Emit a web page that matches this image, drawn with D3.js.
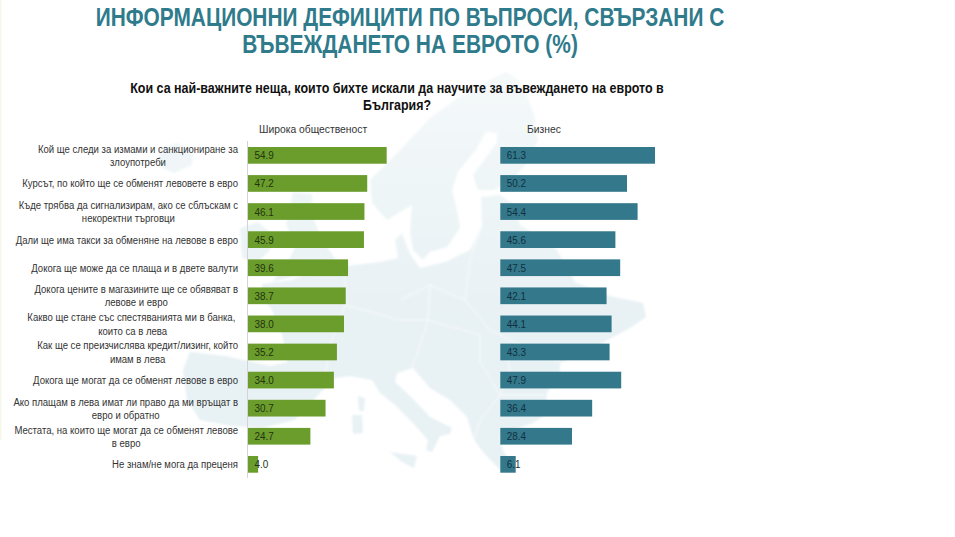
<!DOCTYPE html>
<html><head><meta charset="utf-8">
<script src="https://cdn.jsdelivr.net/npm/d3@7"></script>
<style>html,body{margin:0;padding:0;background:#fff}svg{display:block;font-family:"Liberation Sans",Arial,sans-serif}</style>
</head><body><svg id="c" width="955" height="537"></svg>
<script>
const titleLines = ["ИНФОРМАЦИОННИ ДЕФИЦИТИ ПО ВЪПРОСИ, СВЪРЗАНИ С", "ВЪВЕЖДАНЕТО НА ЕВРОТО (%)"];
const subtitleLines = ["Кои са най-важните неща, които бихте искали да научите за въвеждането на еврото в", "България?"];
const seriesNames = ["Широка общественост", "Бизнес"];
const categories = [
  ["Кой ще следи за измами и санкциониране за", "злоупотреби"],
  ["Курсът, по който ще се обменят левовете в евро"],
  ["Къде трябва да сигнализирам, ако се сблъскам с", "некоректни търговци"],
  ["Дали ще има такси за обменяне на левове в евро"],
  ["Докога ще може да се плаща и в двете валути"],
  ["Докога цените в магазините ще се обявяват в", "левове и евро"],
  ["Какво ще стане със спестяванията ми в банка,\u00a0", "които са в лева"],
  ["Как ще се преизчислява кредит/лизинг, който", "имам в лева"],
  ["Докога ще могат да се обменят левове в евро"],
  ["Ако плащам в лева имат ли право да ми връщат в", "евро и обратно"],
  ["Местата, на които ще могат да се обменят левове", "в евро"],
  ["Не знам/не мога да преценя"]
];
const publicValues = [54.9, 47.2, 46.1, 45.9, 39.6, 38.7, 38.0, 35.2, 34.0, 30.7, 24.7, 4.0];
const businessValues = [61.3, 50.2, 54.4, 45.6, 47.5, 42.1, 44.1, 43.3, 47.9, 36.4, 28.4, 6.1];

// Decorative backdrop outlines of Europe (page pixels), not chart data
const mapShapes = [
  [[505,72],[516,78],[526,92],[534,115],[538,140],[530,160],[512,180],[494,190],[478,190],[473,175],[484,160],[497,142],[497,133],[486,132],[476,150],[458,172],[452,190],[458,215],[460,228],[447,247],[430,252],[423,260],[413,250],[410,232],[412,205],[400,212],[387,220],[372,203],[370,180],[400,150],[430,118],[455,100],[480,85]],
  [[481,197],[500,195],[515,205],[520,225],[545,240],[557,250],[575,282],[610,296],[643,303],[646,317],[630,328],[613,337],[590,350],[560,363],[560,372],[547,393],[545,415],[533,423],[518,428],[500,437],[503,450],[514,470],[500,470],[484,453],[474,440],[467,417],[450,400],[430,388],[413,368],[397,373],[395,382],[412,398],[430,417],[452,428],[450,434],[440,436],[432,452],[426,450],[428,440],[413,423],[395,405],[380,393],[372,380],[350,376],[335,378],[318,395],[295,420],[262,428],[232,426],[200,420],[187,400],[183,370],[190,352],[225,356],[270,366],[288,362],[282,335],[272,310],[262,296],[262,284],[292,280],[320,268],[345,266],[380,262],[398,258],[395,240],[402,233],[410,254],[420,268],[445,262],[470,250],[482,225]],
  [[390,452],[417,456],[414,468],[402,462]],
  [[358,396],[365,398],[364,411],[359,411]],
  [[352,415],[362,415],[363,433],[353,434]],
  [[240,228],[258,222],[270,232],[270,250],[258,262],[242,258]],
  [[293,192],[312,194],[312,215],[322,240],[335,258],[322,272],[295,276],[272,282],[288,262],[296,245],[286,225]],
  [[160,148],[178,143],[193,152],[192,165],[174,173],[158,166]]
];
const mapBorders = [
  [[400,300],[430,285],[465,300],[490,330],[520,345],[560,362]],
  [[430,285],[428,320],[420,345],[412,368]],
  [[345,305],[400,320],[428,320],[480,335],[480,362]],
  [[465,300],[470,260],[482,225]],
  [[345,266],[345,305],[330,345],[325,376]],
  [[480,362],[500,395],[545,395]],
  [[505,345],[510,370],[500,395],[480,420],[474,440]]
];

const svg = d3.select("#c");
const lineGen = d3.line();
const defs = svg.append("defs");
const grad = defs.append("linearGradient").attr("id","landFill")
  .attr("gradientUnits","userSpaceOnUse").attr("x1",0).attr("y1",70).attr("x2",0).attr("y2",320);
grad.append("stop").attr("offset",0).attr("stop-color","#f5f9fa");
grad.append("stop").attr("offset",1).attr("stop-color","#e8f1f4");
defs.append("filter").attr("id","soft").append("feGaussianBlur").attr("stdDeviation",0.8);

svg.append("rect").attr("x",0).attr("y",0).attr("width",1.5).attr("height",440).attr("fill","#f6f6ea");

const bg = svg.append("g").attr("filter","url(#soft)");
bg.selectAll("path.land").data(mapShapes).join("path").attr("class","land")
  .attr("d", d => lineGen(d) + "Z").attr("fill","url(#landFill)");
bg.selectAll("path.border").data(mapBorders).join("path").attr("class","border")
  .attr("d", lineGen).attr("fill","none").attr("stroke","#fbfdfd").attr("stroke-width",1);

// Draws text horizontally squeezed by k, keeping its measured width exact
function placed(parent, str, x, yy, k, anchor){
  return parent.append("text").text(str)
    .attr("text-anchor", anchor)
    .attr("transform", `translate(${x},${yy}) scale(${k},1)`);
}

// Titles
const titleK = [0, 0];
const tg = svg.append("g").attr("font-size",25).attr("font-weight","bold").attr("fill","#2f7b8c");
titleLines.forEach((s,i)=>{
  const t = placed(tg,s,410,26+i*27,1,"middle");
  const k = (i?336:629)/t.node().getComputedTextLength();
  t.attr("transform",`translate(410,${26+i*27}) scale(${k},1)`);
});
const sg = svg.append("g").attr("font-size",14).attr("font-weight","bold").attr("fill","#111");
subtitleLines.forEach((s,i)=>{
  const t = placed(sg,s,397,93+i*17,1,"middle");
  const k = (i?68:534)/t.node().getComputedTextLength();
  t.attr("transform",`translate(397,${93+i*17}) scale(${k},1)`);
});

// Scales
const y = d3.scaleBand().domain(d3.range(categories.length)).range([147,472.7]).paddingInner(0.405).paddingOuter(0);
const xPublic = d3.scaleLinear().domain([0,100]).range([248,500.6]);
const xBusiness = d3.scaleLinear().domain([0,100]).range([500.3,752.7]);

// Category labels
const rightEdge = 238, labelK = 0.87;
const labels = svg.append("g").attr("font-size",11).attr("fill","#333");
categories.forEach((lines,c)=>{
  const mid = y(c)+y.bandwidth()/2;
  let cx = null;
  lines.forEach((s,i)=>{
    const yy = mid + (i-(lines.length-1)/2)*13.3 + 4;
    const t = placed(labels,s,0,yy,labelK,"middle");
    if(cx===null) cx = rightEdge - t.node().getComputedTextLength()*labelK/2;
    t.attr("transform",`translate(${cx},${yy}) scale(${labelK},1)`);
  });
});

// Axis line
svg.append("line").attr("x1",247.5).attr("x2",247.5).attr("y1",141).attr("y2",478).attr("stroke","#d4d4d4");

function series(vals, x, color, textColor){
  const g = svg.append("g");
  g.selectAll("rect").data(vals).join("rect")
    .attr("x",x(0)).attr("y",(d,i)=>y(i)).attr("width",d=>x(d)-x(0)).attr("height",y.bandwidth())
    .attr("fill",color);
  const tl = g.append("g").attr("font-size",11).attr("fill",textColor);
  vals.forEach((d,i)=>placed(tl,d.toFixed(1),x(0)+6.5,y(i)+y.bandwidth()/2+4,0.9,"start"));
}
series(publicValues,xPublic,"#6b9d2d","#23330f");
series(businessValues,xBusiness,"#34788c","#10303f");

// Series headers
const hg = svg.append("g").attr("font-size",11).attr("fill","#333");
placed(hg,seriesNames[0],259,133,0.94,"start");
placed(hg,seriesNames[1],527,133,0.94,"start");
</script></body></html>
